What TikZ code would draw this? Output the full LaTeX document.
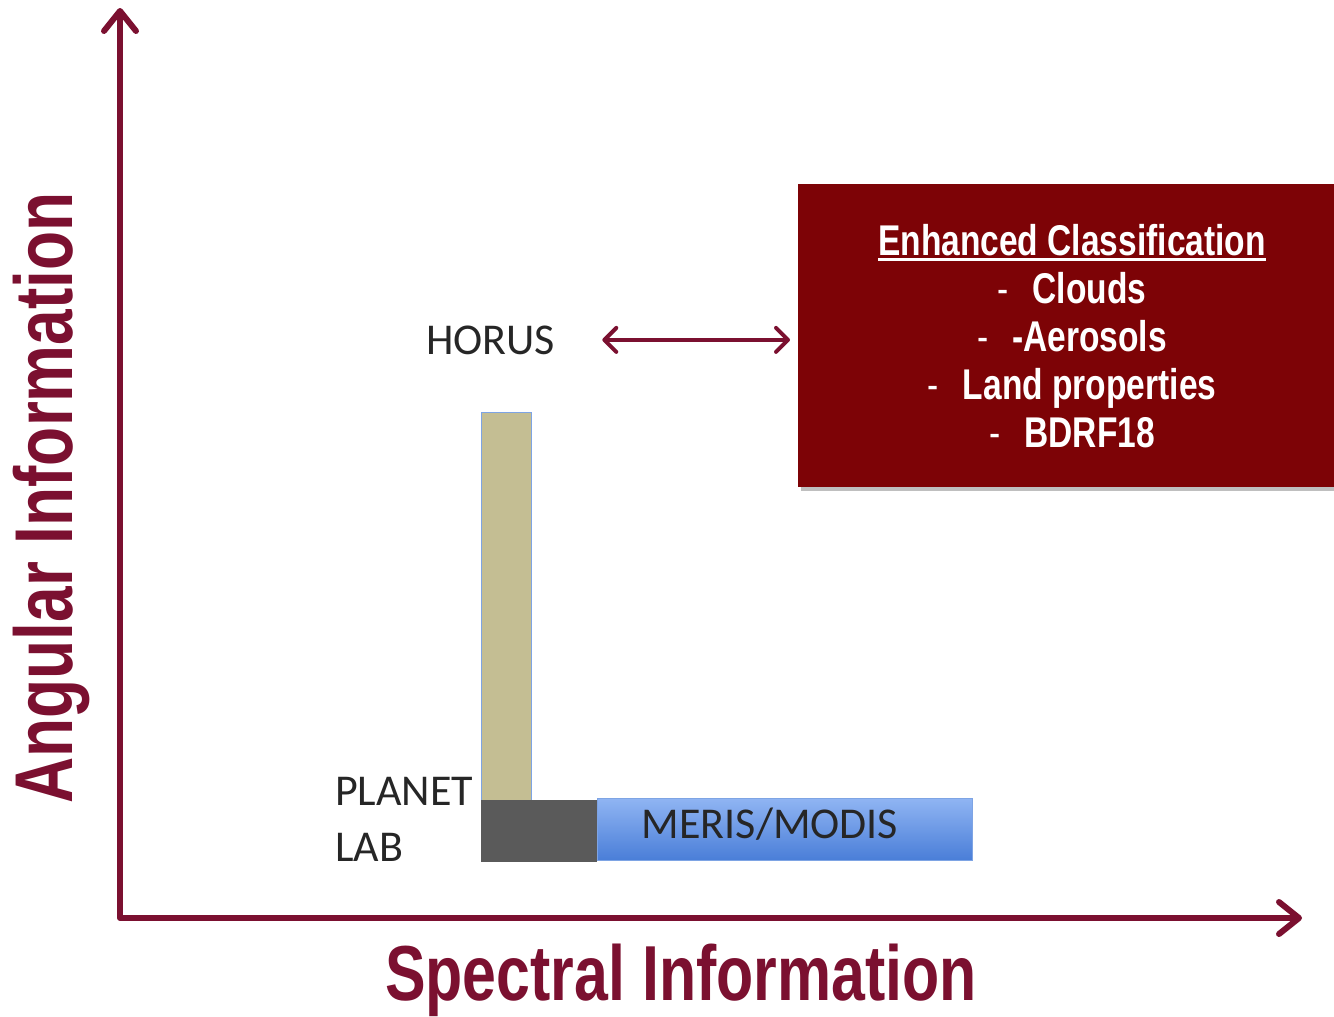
\documentclass[tikz,border=0pt]{standalone}
\usepackage{fontspec}
\setmainfont{Carlito}
\newfontfamily\narrowfont[FakeStretch=0.78]{Liberation Sans}
\usepackage{xcolor}
\usetikzlibrary{arrows.meta, positioning, calc}
\definecolor{wine}{HTML}{7B1030}
\definecolor{boxred}{HTML}{7D0306}
\definecolor{sandbar}{HTML}{C4BE93}
\definecolor{darkbar}{HTML}{5A5A5A}
\definecolor{bluetop}{HTML}{90B5F3}
\definecolor{bluebot}{HTML}{4A7ED8}
\definecolor{edgeblue}{HTML}{7EA4E4}
\newcommand\ulword[1]{\setbox0=\hbox{#1}\rlap{\rule[-6pt]{\wd0}{3pt}}\box0}
\newcommand\itemdash{{\mdseries -}\hspace{24pt}}

\begin{document}
\begin{tikzpicture}[x=1pt, y=-1pt,
    axis/.style={wine, line width=6pt, line join=round,
      {Straight Barb[length=20pt, width=32pt, round]}-{Straight Barb[length=20pt, width=32pt, round]}},
    dbl/.style={wine, line width=4pt,
      {Straight Barb[length=12pt, width=24pt, round]}-{Straight Barb[length=12pt, width=24pt, round]}},
    axislabel/.style={wine, inner sep=0pt, font=\narrowfont\bfseries\fontsize{78}{78}\selectfont},
    sensor/.style={inner sep=0pt, text=black!85, font=\fontsize{44}{52}\selectfont},
    classbox/.style={fill=boxred, minimum width=536pt, minimum height=303pt, inner sep=0pt},
    ]
    \useasboundingbox (0,0) rectangle (1334,1017);

    \coordinate (O) at (120,918);
    \coordinate (Y) at (120,8);
    \coordinate (X) at (1302,918);

    \draw [axis] (Y) -- (O) -- (X);

    \node [axislabel, rotate=90, anchor=base, font=\narrowfont\bfseries\fontsize{82}{82}\selectfont]
      (angular) at (72,498) {Angular Information};
    \node [axislabel, anchor=base] (spectral) at (681,1000) {Spectral Information};

    % bars
    \filldraw [fill=sandbar, draw=edgeblue, thin] (481,412) rectangle (531,800);
    \shade [top color=bluetop, bottom color=bluebot, draw=edgeblue, thin] (597,798) rectangle (972,860);
    \fill [darkbar] (481,800) rectangle (597,862);

    \node [sensor, anchor=base west] (horus) at (426,354) {HORUS};
    \node [sensor, anchor=base west] (planet) at (335,805) {PLANET};
    \node [sensor, anchor=base west] (lab) at (335,861) {LAB};
    \node [sensor, anchor=base] (meris) at (770,838) {MERIS/MODIS};

    \fill [black!25] (801,188) rectangle (1334,491);
    \node [classbox, anchor=north west] (enh) at (798,184) {};
    \node [text=white, align=center, inner sep=0pt,
      font=\narrowfont\bfseries\fontsize{43}{48}\selectfont] (classes) at (1072,336)
      {\ulword{Enhanced Classification}\\
      \itemdash Clouds\\
      \itemdash -Aerosols\\
      \itemdash Land properties\\
      \itemdash BDRF18};

    \draw [dbl, shorten <=47pt, shorten >=8pt] (horus.east) -- (horus.east -| enh.west);
  \end{tikzpicture}
\end{document}
